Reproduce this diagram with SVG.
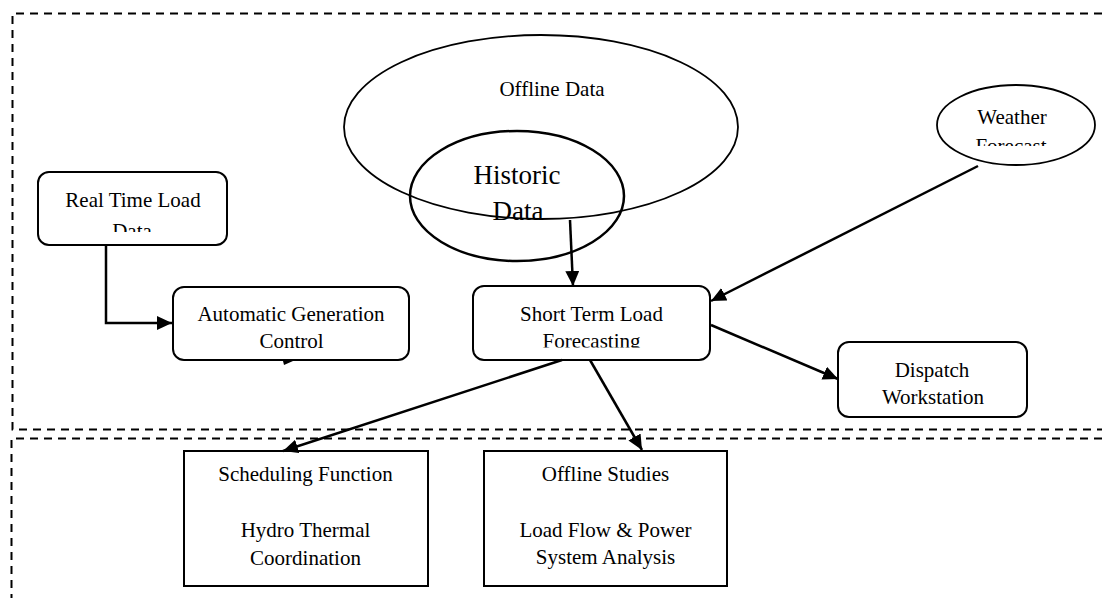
<svg xmlns="http://www.w3.org/2000/svg" width="1102" height="598" viewBox="0 0 1102 598">
<style>
.t{font-family:"Liberation Serif","Times New Roman",serif;font-size:21px;fill:#000;text-anchor:middle}
.big{font-size:27px}
.box{fill:#fff;stroke:#000;stroke-width:2}
.ell{fill:none;stroke:#000;stroke-width:1.8}
.dash{fill:none;stroke:#000;stroke-width:2;stroke-dasharray:8 6}
.c{fill:none;stroke:#000;stroke-width:2.5;marker-end:url(#ah)}
</style>
<defs>
<marker id="ah" markerUnits="userSpaceOnUse" markerWidth="16" markerHeight="16" refX="15" refY="7" orient="auto">
<path d="M0,0 L15,7 L0,14 z" fill="#000"/>
</marker>
<clipPath id="cpRT"><rect x="38" y="172" width="190" height="60"/></clipPath>
<clipPath id="cpST"><rect x="473" y="286" width="238" height="61.5"/></clipPath>
<clipPath id="cpWF"><rect x="937" y="85" width="160" height="61"/></clipPath>
</defs>
<g id="borders">
<path class="dash" d="M1102,13.5 H12.5 V429.5 H1102"/>
<path class="dash" d="M1102,438.5 H11.5 V598"/>
</g>
<g id="offline-data">
<ellipse class="ell" cx="541" cy="127" rx="197" ry="92"/>
<text class="t" x="552" y="96">Offline Data</text>
</g>
<g id="historic-data">
<ellipse cx="517" cy="196" rx="107" ry="65" fill="none" stroke="#000" stroke-width="2.5"/>
<text class="t big" x="517" y="184">Historic</text>
<text class="t big" x="518" y="220">Data</text>
</g>
<g id="weather-forecast">
<ellipse class="ell" cx="1016" cy="125" rx="79" ry="40"/>
<g clip-path="url(#cpWF)">
<text class="t" x="1012" y="124">Weather</text>
<text class="t" x="1011" y="152.5">Forecast</text>
</g>
</g>
<g id="real-time-load-data">
<rect class="box" x="38" y="172" width="189" height="73" rx="11"/>
<g clip-path="url(#cpRT)">
<text class="t" x="133" y="207">Real Time Load</text>
<text class="t" x="132" y="237.5">Data</text>
</g>
</g>
<g id="agc">
<rect class="box" x="173" y="287" width="236" height="73" rx="11"/>
<text class="t" x="291" y="321">Automatic Generation</text>
<text class="t" x="291.5" y="348">Control</text>
<path d="M283,361 L293,361 L284,365 z" fill="#000"/>
</g>
<g id="stlf">
<rect class="box" x="473" y="286" width="237" height="74" rx="11"/>
<g clip-path="url(#cpST)">
<text class="t" x="591.5" y="320.5">Short Term Load</text>
<text class="t" x="591.5" y="348">Forecasting</text>
</g>
</g>
<g id="dispatch">
<rect class="box" x="838" y="342" width="189" height="75" rx="11"/>
<text class="t" x="932" y="376.5">Dispatch</text>
<text class="t" x="933" y="404">Workstation</text>
</g>
<g id="scheduling">
<rect class="box" x="184" y="451" width="244" height="135"/>
<text class="t" x="305.5" y="481">Scheduling Function</text>
<text class="t" x="305.5" y="537">Hydro Thermal</text>
<text class="t" x="305.5" y="565">Coordination</text>
</g>
<g id="offline-studies">
<rect class="box" x="484" y="451" width="243" height="135"/>
<text class="t" x="605.5" y="480.5">Offline Studies</text>
<text class="t" x="605.5" y="536.5">Load Flow &amp; Power</text>
<text class="t" x="605.5" y="564">System Analysis</text>
</g>
<g id="connectors">
<path class="c" d="M106,245 V323 H172"/>
<path class="c" d="M570,220 L573,286"/>
<path class="c" d="M978,166 L711,301"/>
<path class="c" d="M711,325 L838,379"/>
<path class="c" d="M562,360 L283,451"/>
<path class="c" d="M590,360 L642,450"/>
</g>
</svg>
